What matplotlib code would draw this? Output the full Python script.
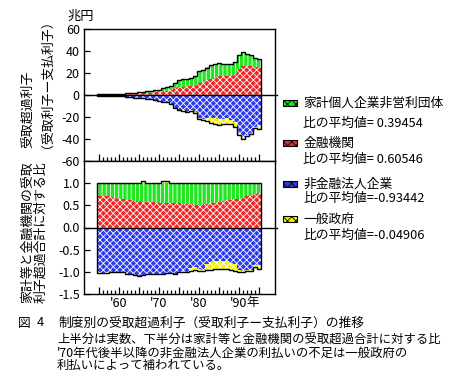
import matplotlib
matplotlib.use('Agg')
import matplotlib.pyplot as plt
import numpy as np
from matplotlib.patches import Rectangle

plt.rcParams['font.family'] = ['Noto Sans CJK JP', 'DejaVu Sans']
plt.rcParams['axes.unicode_minus'] = False
plt.rcParams['hatch.linewidth'] = 0.6

# ---------------- data (兆円) ----------------
years = list(range(1955, 1996))
household = [0.20, 0.22, 0.24, 0.27, 0.31, 0.36, 0.44, 0.57, 0.78, 0.88,
             1.11, 1.18, 1.50, 1.59, 1.81, 2.11, 2.51, 2.97, 3.69, 4.95,
             5.98, 6.58, 7.05, 7.34, 8.50, 11.00, 11.04, 11.50, 12.15, 12.32,
             12.18, 11.40, 10.64, 10.36, 10.80, 12.60, 12.97, 11.25, 10.08, 8.50,
             7.26]
financial = [0.50, 0.53, 0.56, 0.58, 0.59, 0.64, 0.76, 0.93, 1.22, 1.32,
             1.59, 1.62, 2.00, 2.11, 2.39, 2.69, 3.19, 3.63, 4.51, 6.05,
             7.32, 7.72, 7.95, 7.96, 8.50, 11.00, 11.96, 13.50, 14.85, 15.68,
             16.82, 17.10, 17.36, 17.64, 19.20, 23.40, 26.33, 26.25, 25.92, 25.50,
             25.74]
nonfinancial = [-0.70, -0.77, -0.80, -0.85, -0.90, -1.00, -1.21, -1.56, -2.10, -2.35,
                -2.94, -2.97, -3.68, -3.89, -4.41, -5.04, -5.99, -6.80, -8.45, -11.55,
                -13.30, -14.01, -15.00, -13.92, -15.13, -20.46, -21.85, -20.75, -21.06, -21.28,
                -21.75, -21.38, -21.28, -22.40, -24.90, -34.20, -38.51, -36.00, -34.56, -28.90,
                -27.72]
government = [-0.02, 0.00, -0.02, 0.00, 0.00, 0.00, 0.00, 0.00, 0.00, 0.00,
              0.00, 0.11, 0.00, 0.00, 0.00, 0.00, 0.23, 0.26, 0.00, 0.00,
              0.00, -0.29, 0.00, -0.92, -1.19, -1.10, -0.92, -3.00, -4.59, -5.04,
              -5.51, -5.42, -5.04, -4.20, -4.50, -1.80, -1.18, -1.13, -1.08, -1.02,
              -2.97]

series_names = ['家計個人企業非営利団体', '金融機関', '非金融法人企業', '一般政府']
ratio_means = [0.39454, 0.60546, -0.93442, -0.04906]
upper_yticks = [-60, -40, -20, 0, 20, 40, 60]
lower_yticks = [-1.5, -1.0, -0.5, 0.0, 0.5, 1.0]
xtick_years = [1960, 1970, 1980, 1990]
xtick_labels = ["'60", "'70", "'80", "'90"]

# ---------------- styling ----------------
face = ['#22e622', '#f02828', '#2a3af0', '#f4f400']
hatches = ['||||', 'xxxxx', 'xxxxx', 'xxxxx']

W, H = 470, 380
fig = plt.figure(figsize=(W / 100, H / 100), dpi=100)

def fx(px):
    return px / W

def fy(py):
    return 1 - py / H

ax_u = fig.add_axes([fx(84), fy(161), fx(275) - fx(84), fy(29) - fy(161)])
ax_l = fig.add_axes([fx(84), fy(294), fx(275) - fx(84), fy(161) - fy(294)])

yr = np.array(years, dtype=float)
hh = np.array(household)
fi = np.array(financial)
nf = np.array(nonfinancial)
gv = np.array(government)
pos_sum = hh + fi

def draw(ax, a_hh, a_fi, a_nf, a_gv):
    gpos = np.where(a_gv > 0, a_gv, 0)
    gneg = np.where(a_gv < 0, a_gv, 0)
    kw = dict(width=1.0, edgecolor='white', linewidth=0, zorder=2)
    ax.bar(yr, a_fi, bottom=0, color=face[1], hatch=hatches[1], **kw)
    ax.bar(yr, a_hh, bottom=a_fi, color=face[0], hatch=hatches[0], **kw)
    ax.bar(yr, gpos, bottom=a_fi + a_hh, color=face[3], hatch=hatches[3], **kw)
    ax.bar(yr, a_nf, bottom=0, color=face[2], hatch=hatches[2], **kw)
    ax.bar(yr, gneg, bottom=a_nf, color=face[3], hatch=hatches[3], **kw)
    edges = np.append(yr - 0.5, yr[-1] + 0.5)
    ax.stairs(a_fi + a_hh + gpos, edges, baseline=0, color='black', lw=1.0, zorder=3)
    ax.stairs(a_nf + gneg, edges, baseline=0, color='black', lw=1.0, zorder=3)
    x0, x1 = 1951.3, 1999.1
    ax.set_xlim(x0, x1)
    ax.plot([x0, x1 + 0.6], [0, 0], color='black', lw=1.0, zorder=4, clip_on=False)
    ax.set_xticks(range(1955, 1996, 5))
    ax.set_xticks(range(1955, 1996), minor=True)
    ax.tick_params(axis='x', which='major', direction='in', length=5, width=0.9,
                   top=False, bottom=True, labelsize=9, pad=2)
    ax.tick_params(axis='x', which='minor', direction='in', length=3, width=0.9,
                   top=False, bottom=True)
    ax.tick_params(axis='y', direction='in', length=4, width=0.9, labelsize=9, pad=3,
                   left=True, right=False)
    for s in ax.spines.values():
        s.set_linewidth(1.0)
        s.set_color('black')

draw(ax_u, hh, fi, nf, gv)
draw(ax_l, hh / pos_sum, fi / pos_sum, nf / pos_sum, gv / pos_sum)

ax_u.set_ylim(-60, 60)
ax_u.set_yticks(upper_yticks)
ax_u.set_yticklabels([str(v) for v in upper_yticks])
ax_u.set_xticklabels([])

ax_l.set_ylim(-1.5, 1.5)
ax_l.set_yticks(lower_yticks)
ax_l.set_yticklabels([f'{v:.1f}' for v in lower_yticks])
ax_l.set_xticks(range(1955, 1996, 5))
ax_l.set_xticklabels(['' if y not in xtick_years else xtick_labels[xtick_years.index(y)]
                      for y in range(1955, 1996, 5)])
ax_l.text(1992.0, -0.015, '年', transform=ax_l.get_xaxis_transform(),
          ha='left', va='top', fontsize=9)

# axis titles
fig.text(fx(67), fy(16), '兆円', ha='left', va='center', fontsize=9.5)
fig.text(fx(34), fy(148), '受取超過利子\n（受取利子ー支払利子）', rotation=90,
         ha='center', va='bottom', fontsize=9.3, linespacing=1.0, multialignment='left')
fig.text(fx(34), fy(303), '家計等と金融機関の受取\n利子超過合計に対する比', rotation=90,
         ha='center', va='bottom', fontsize=9.3, linespacing=1.0, multialignment='left')

# legend
leg_y = [(103, 123), (143, 159), (184, 198), (219, 235)]
for i, (y1, y2) in enumerate(leg_y):
    r = Rectangle((fx(283), fy(y1 + 2.5)), fx(14), fy(0) - fy(5),
                  transform=fig.transFigure, facecolor=face[i], hatch='xxxx',
                  edgecolor='black', linewidth=0.8)
    fig.add_artist(r)
    fig.text(fx(303), fy(y1), series_names[i], ha='left', va='center', fontsize=9.2)
    fig.text(fx(303), fy(y2), f'比の平均値={ratio_means[i]: .5f}', ha='left',
             va='center', fontsize=9.2)

# caption
fig.text(fx(18), fy(323), '図', ha='left', va='center', fontsize=9.2)
fig.text(fx(37), fy(323), '4', ha='left', va='center', fontsize=9.2)
fig.text(fx(58), fy(323), '制度別の受取超過利子（受取利子ー支払利子）の推移',
         ha='left', va='center', fontsize=9.2)
caption_lines = ['上半分は実数、下半分は家計等と金融機関の受取超過合計に対する比',
                 "'70年代後半以降の非金融法人企業の利払いの不足は一般政府の",
                 '利払いによって補われている。']
fig.text(fx(57), fy(334), '\n'.join(caption_lines), ha='left', va='top',
         fontsize=8.9, linespacing=0.95)

fig.savefig('out.png', dpi=100)
